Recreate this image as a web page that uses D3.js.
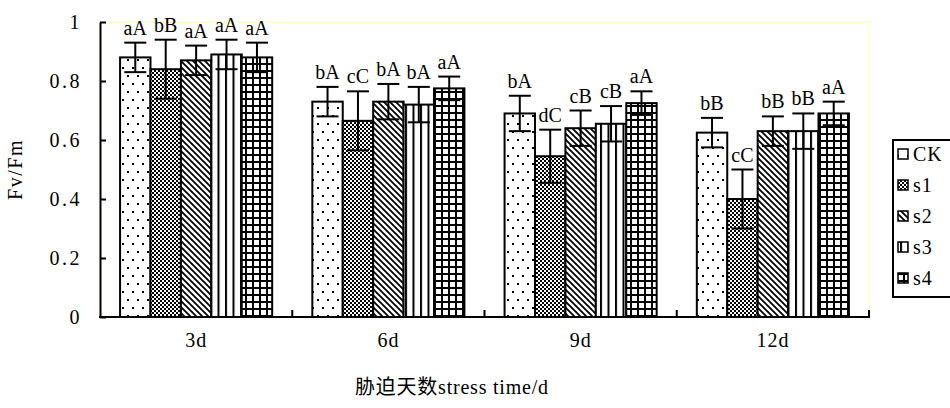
<!DOCTYPE html>
<html>
<head>
<meta charset="utf-8">
<script src="https://cdn.jsdelivr.net/npm/d3@7"></script>
<style>
  html, body { margin: 0; padding: 0; background: #fff; }
  svg { display: block; }
  text { font-family: "Liberation Serif", "Noto Sans CJK SC", serif; fill: #000; }
</style>
</head>
<body>
<svg id="chart" width="950" height="408"></svg>
<script>
// Stress duration groups and treatments
const days = ["3d", "6d", "9d", "12d"];
const series = ["CK", "s1", "s2", "s3", "s4"];

// Fv/Fm means per treatment (one value per day)
const CK = [0.88, 0.73, 0.69, 0.625];
const s1 = [0.84, 0.665, 0.545, 0.40];
const s2 = [0.87, 0.73, 0.64, 0.63];
const s3 = [0.89, 0.72, 0.655, 0.63];
const s4 = [0.88, 0.775, 0.725, 0.69];

// Error bar half-widths
const CK_err = [0.05, 0.05, 0.06, 0.05];
const s1_err = [0.10, 0.10, 0.09, 0.10];
const s2_err = [0.05, 0.06, 0.06, 0.05];
const s3_err = [0.05, 0.06, 0.06, 0.06];
const s4_err = [0.05, 0.04, 0.04, 0.04];

// Significance letters
const CK_sig = ["aA", "bA", "bA", "bB"];
const s1_sig = ["bB", "cC", "dC", "cC"];
const s2_sig = ["aA", "bA", "cB", "bB"];
const s3_sig = ["aA", "bA", "cB", "bB"];
const s4_sig = ["aA", "aA", "aA", "aA"];

const yTicks = [0, 0.2, 0.4, 0.6, 0.8, 1];

const valuesBySeries = { CK, s1, s2, s3, s4 };
const errBySeries = { CK: CK_err, s1: s1_err, s2: s2_err, s3: s3_err, s4: s4_err };
const sigBySeries = { CK: CK_sig, s1: s1_sig, s2: s2_sig, s3: s3_sig, s4: s4_sig };

const rows = [];
days.forEach((d, i) => {
  series.forEach(s => {
    rows.push({ day: d, series: s, value: valuesBySeries[s][i], err: errBySeries[s][i], sig: sigBySeries[s][i] });
  });
});

const svg = d3.select("#chart");
const plot = { left: 100, right: 869, top: 22, bottom: 317 };
const fontSize = 20;

// Fill patterns for the treatments
const defs = svg.append("defs");

const pCK = defs.append("pattern").attr("id", "pat-CK").attr("patternUnits", "userSpaceOnUse")
  .attr("width", 10).attr("height", 16);
pCK.append("rect").attr("width", 10).attr("height", 16).attr("fill", "#fff");
pCK.append("rect").attr("x", 2).attr("y", 3).attr("width", 2).attr("height", 2).attr("fill", "#000");
pCK.append("rect").attr("x", 7).attr("y", 11).attr("width", 2).attr("height", 2).attr("fill", "#000");

const pS1 = defs.append("pattern").attr("id", "pat-s1").attr("patternUnits", "userSpaceOnUse")
  .attr("width", 4).attr("height", 4);
pS1.append("rect").attr("width", 4).attr("height", 4).attr("fill", "#fff");
pS1.append("rect").attr("x", 0).attr("y", 0).attr("width", 2).attr("height", 2).attr("fill", "#000");
pS1.append("rect").attr("x", 2).attr("y", 2).attr("width", 2).attr("height", 2).attr("fill", "#000");

const pS2 = defs.append("pattern").attr("id", "pat-s2").attr("patternUnits", "userSpaceOnUse")
  .attr("width", 6).attr("height", 6);
pS2.append("rect").attr("width", 6).attr("height", 6).attr("fill", "#fff");
pS2.append("path").attr("d", "M-1,-1 L7,7 M-1,5 L1,7 M5,-1 L7,1")
  .attr("stroke", "#000").attr("stroke-width", 1.8);

const pS3 = defs.append("pattern").attr("id", "pat-s3").attr("patternUnits", "userSpaceOnUse")
  .attr("width", 7.5).attr("height", 8);
pS3.append("rect").attr("width", 7.5).attr("height", 8).attr("fill", "#fff");
pS3.append("rect").attr("x", 0).attr("y", 0).attr("width", 2).attr("height", 8).attr("fill", "#000");

const pS4 = defs.append("pattern").attr("id", "pat-s4").attr("patternUnits", "userSpaceOnUse")
  .attr("width", 7).attr("height", 7);
pS4.append("rect").attr("width", 7).attr("height", 7).attr("fill", "#fff");
pS4.append("rect").attr("x", 0).attr("y", 0).attr("width", 2).attr("height", 7).attr("fill", "#000");
pS4.append("rect").attr("x", 0).attr("y", 0).attr("width", 7).attr("height", 2).attr("fill", "#000");

// Scales
const x0 = d3.scaleBand().domain(days).range([plot.left, plot.right]).paddingInner(0).paddingOuter(0);
const x1 = d3.scaleBand().domain(series).range([0, x0.bandwidth()]).paddingInner(0).paddingOuter(0.66);
const y = d3.scaleLinear().domain([0, 1]).range([plot.bottom, plot.top]);

// Plot area frame (pale yellow)
svg.append("rect")
  .attr("x", plot.left).attr("y", plot.top)
  .attr("width", plot.right - plot.left).attr("height", plot.bottom - plot.top)
  .attr("fill", "#fff").attr("stroke", "#ffffc8").attr("stroke-width", 1.5);

// Bars
const bars = svg.append("g");
bars.selectAll("rect").data(rows).join("rect")
  .attr("x", d => x0(d.day) + x1(d.series))
  .attr("y", d => y(d.value))
  .attr("width", x1.bandwidth())
  .attr("height", d => y(0) - y(d.value))
  .attr("fill", d => `url(#pat-${d.series})`)
  .attr("stroke", "#000").attr("stroke-width", 2);

// Error bars
const capHalf = 11;
const eb = svg.append("g").attr("stroke", "#000").attr("stroke-width", 2);
rows.forEach(d => {
  const cx = x0(d.day) + x1(d.series) + x1.bandwidth() / 2;
  const yHi = y(d.value + d.err), yLo = y(d.value - d.err);
  eb.append("line").attr("x1", cx).attr("x2", cx).attr("y1", yHi).attr("y2", yLo);
  eb.append("line").attr("x1", cx - capHalf).attr("x2", cx + capHalf).attr("y1", yHi).attr("y2", yHi);
  eb.append("line").attr("x1", cx - capHalf).attr("x2", cx + capHalf).attr("y1", yLo).attr("y2", yLo);
});

// Significance letters
svg.append("g").selectAll("text").data(rows).join("text")
  .attr("x", d => x0(d.day) + x1(d.series) + x1.bandwidth() / 2)
  .attr("y", d => y(d.value + d.err) - 8)
  .attr("text-anchor", "middle")
  .attr("font-size", 20)
  .attr("fill", "#000")
  .text(d => d.sig);

// Y axis
const yAxis = d3.axisLeft(y).tickValues(yTicks)
  .tickFormat(d => d === 0 || d === 1 ? String(d) : d.toFixed(1))
  .tickSizeInner(-6).tickSizeOuter(0).tickPadding(18);
const gy = svg.append("g").attr("transform", `translate(${plot.left},0)`).call(yAxis);
gy.select(".domain").attr("stroke", "#000").attr("stroke-width", 2);
gy.selectAll(".tick line").attr("stroke", "#000").attr("stroke-width", 2);
gy.selectAll(".tick text").attr("font-size", fontSize).attr("letter-spacing", 2.5)
  .attr("font-family", "Liberation Serif, serif").attr("fill", "#000");

// X axis: category labels
const xAxis = d3.axisBottom(x0).tickSize(0).tickPadding(16);
const gx = svg.append("g").attr("transform", `translate(0,${plot.bottom})`).call(xAxis);
gx.select(".domain").remove();
gx.selectAll(".tick text").attr("font-size", fontSize).attr("letter-spacing", 1)
  .attr("font-family", "Liberation Serif, serif").attr("fill", "#000");

// X axis line with inward boundary ticks between groups
const boundaries = d3.range(days.length + 1).map(i => plot.left + i * x0.step());
svg.append("line")
  .attr("x1", plot.left - 1).attr("x2", plot.right + 1)
  .attr("y1", plot.bottom).attr("y2", plot.bottom)
  .attr("stroke", "#000").attr("stroke-width", 2);
svg.append("g").selectAll("line").data(boundaries.slice(1)).join("line")
  .attr("x1", d => d).attr("x2", d => d)
  .attr("y1", plot.bottom).attr("y2", plot.bottom - 7)
  .attr("stroke", "#000").attr("stroke-width", 2);

// Axis titles
svg.append("text")
  .attr("transform", `translate(22,${(plot.top + plot.bottom) / 2}) rotate(-90)`)
  .attr("text-anchor", "middle")
  .attr("font-size", fontSize)
  .attr("letter-spacing", 1.5)
  .attr("fill", "#000")
  .text("Fv/Fm");

svg.append("text")
  .attr("x", 355).attr("y", 394)
  .attr("font-size", fontSize)
  .attr("textLength", 193)
  .attr("lengthAdjust", "spacing")
  .attr("fill", "#000")
  .text("胁迫天数stress time/d");

// Legend
const legend = svg.append("g");
legend.append("rect")
  .attr("x", 893).attr("y", 140).attr("width", 80).attr("height", 157)
  .attr("fill", "#fff").attr("stroke", "#000").attr("stroke-width", 2);
const legendRow = d3.scalePoint().domain(series).range([154, 278]);
series.forEach(s => {
  const cy = legendRow(s);
  legend.append("rect")
    .attr("x", 898).attr("y", cy - 5).attr("width", 10).attr("height", 10)
    .attr("fill", `url(#pat-${s})`).attr("stroke", "#000").attr("stroke-width", 1.5);
  legend.append("text")
    .attr("x", 913).attr("y", cy + 7)
    .attr("font-size", fontSize)
    .attr("letter-spacing", 1)
    .attr("fill", "#000")
    .text(s);
});
</script>
</body>
</html>
